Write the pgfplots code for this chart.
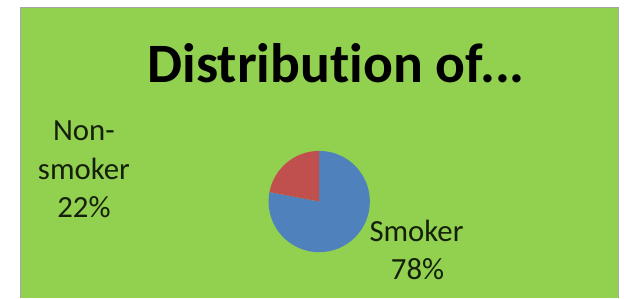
\documentclass[border=0pt]{standalone}
\usepackage{pgfplots}
\pgfplotsset{compat=1.18}
\usepackage{pgfplotstable}
\usepackage{fontspec}
\setmainfont{Carlito}[Ligatures=NoCommon]
\definecolor{bggreen}{HTML}{92D050}
\definecolor{smokerblue}{HTML}{4F81BD}
\definecolor{nonred}{HTML}{C0504D}
\definecolor{labeltext}{HTML}{14200A}
\pgfplotstableread{
label value
Smoker 78
Non-smoker 22
}\piedata
\begin{document}
\pgfplotstablegetelem{0}{value}\of\piedata
\let\smokerval\pgfplotsretval
\pgfplotstablegetelem{1}{value}\of\piedata
\let\nonval\pgfplotsretval
\pgfmathsetmacro{\smokerend}{90-3.6*\smokerval}
\pgfmathsetmacro{\nonend}{90+3.6*\nonval}
\begin{tikzpicture}
\begin{axis}[
  scale only axis, width=624pt, height=300pt,
  xmin=0, xmax=624, ymin=0, ymax=300, y dir=reverse,
  hide axis, clip=false]
\fill[white] (axis cs:0,0) rectangle (axis cs:624,300);
\fill[bggreen] (axis cs:16,7) rectangle (axis cs:618,300);
\draw[gray!70, line width=0.8pt] (axis cs:16,300) -- (axis cs:16,7) -- (axis cs:618,7) -- (axis cs:618,300);
% pie
\fill[smokerblue] (axis cs:317,203) -- ++(90:51pt) arc[start angle=90, end angle=\smokerend, radius=51pt] -- cycle;
\fill[nonred] (axis cs:317,203) -- ++(90:51pt) arc[start angle=90, end angle=\nonend, radius=51pt] -- cycle;
% title
\node[anchor=base, inner sep=0pt, font=\bfseries\fontsize{56}{62}\selectfont] at (axis cs:334,83) {Distribution of...};
% labels
\begin{scope}[every node/.style={anchor=base, inner sep=0pt, text=labeltext, font=\fontsize{31}{38}\selectfont}]
\node at (axis cs:80,142) {Non-};
\node at (axis cs:80,181) {smoker};
\node at (axis cs:80,219) {22\%};
\node at (axis cs:415,243) {Smoker};
\node at (axis cs:416,282) {78\%};
\end{scope}
\end{axis}
\end{tikzpicture}
\end{document}
